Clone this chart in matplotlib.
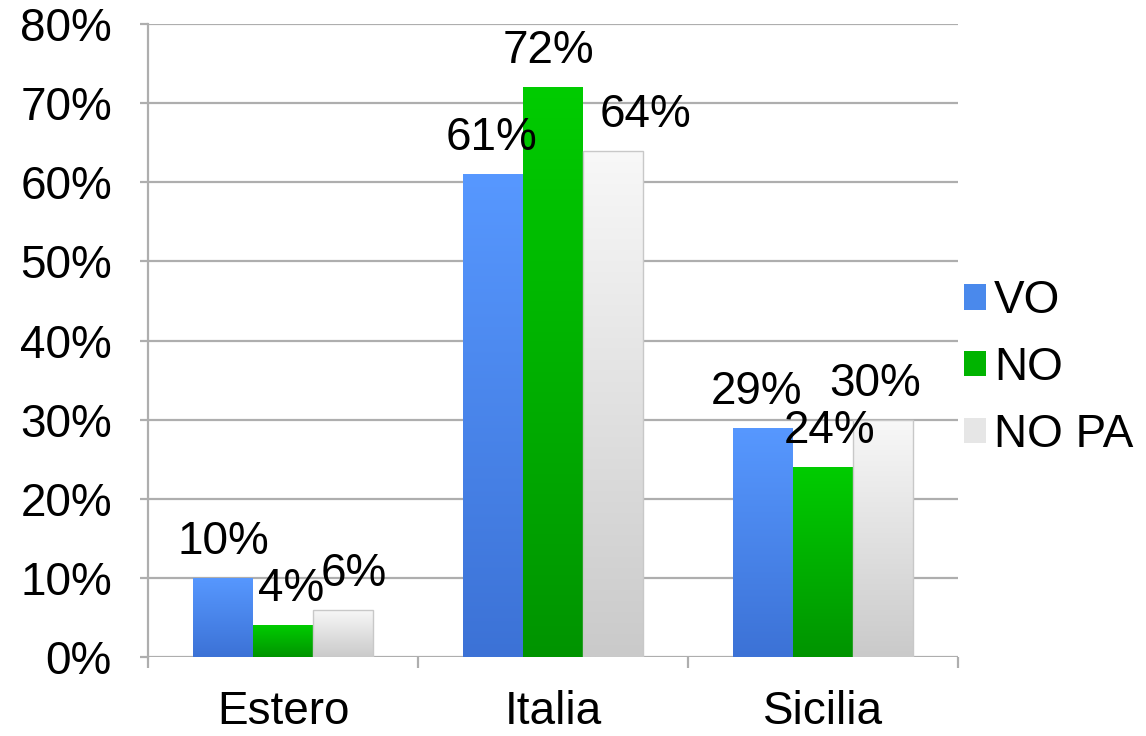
import numpy as np
import matplotlib
matplotlib.use("Agg")
import matplotlib.pyplot as plt
from matplotlib.colors import LinearSegmentedColormap
from matplotlib.patches import Patch
from matplotlib.ticker import FuncFormatter, FixedLocator

# data (percent)
categories = ["Estero", "Italia", "Sicilia"]
series_names = ["VO", "NO", "NO PA"]
vo = [10, 61, 29]
no = [4, 72, 24]
no_pa = [6, 64, 30]

# gradient colours (top, bottom) and legend colour for each series
grad_colors = [("#5798ff", "#3c72d6"), ("#00cc00", "#009400"), ("#f8f8f8", "#cacaca")]
legend_colors = ["#4a89ec", "#00b400", "#e6e6e6"]
edge_colors = ["none", "none", "#c8c8c8"]
# label nudges in pixels, per category / series (the original's labels are shuffled around)
label_dx = [[0, 8, 11], [-2, -5, 33], [-7, 7, -8]]

plt.rcParams["font.family"] = ["Liberation Sans", "DejaVu Sans"]
FS = 33
grid_col = "#aeaeae"

fig = plt.figure(figsize=(11.46, 7.36), dpi=100)
ax = fig.add_axes([148 / 1146, 1 - 657 / 736, 810 / 1146, 633 / 736])

x = np.arange(len(categories))
width = 0.222
px2pt = 72 / 100

for i, (name, vals) in enumerate(zip(series_names, [vo, no, no_pa])):
    bars = ax.bar(x + (i - 1) * width, vals, width, color="none",
                  edgecolor=edge_colors[i], linewidth=1, zorder=3)
    cmap = LinearSegmentedColormap.from_list(name, [grad_colors[i][1], grad_colors[i][0]])
    for j, b in enumerate(bars):
        x0, w, h = b.get_x(), b.get_width(), b.get_height()
        im = ax.imshow(np.linspace(0, 1, 256).reshape(-1, 1), cmap=cmap, origin="lower",
                       extent=[x0, x0 + w, 0, h], aspect="auto", zorder=2)
        im.set_clip_path(b)
        ax.annotate(f"{vals[j]}%", (x0 + w / 2, h), xytext=(label_dx[j][i] * px2pt, 24 * px2pt),
                    textcoords="offset points", ha="center", va="baseline",
                    fontsize=FS, zorder=5)

ax.set_xlim(-0.5, len(categories) - 0.5)
ax.set_ylim(0, 80)
ax.set_yticks(np.arange(0, 81, 10))
ax.yaxis.set_major_formatter(FuncFormatter(lambda v, pos: f"{int(v)}%"))
ax.yaxis.grid(True, color=grid_col, linewidth=1.6)
ax.set_axisbelow(True)

ax.set_xticks(x)
ax.set_xticklabels(categories)
ax.xaxis.set_minor_locator(FixedLocator(np.arange(-0.5, len(categories), 1.0)))
ax.tick_params(axis="x", which="major", length=0, pad=24, labelsize=FS)
ax.tick_params(axis="x", which="minor", length=8, width=1.6, color=grid_col)
ax.tick_params(axis="y", length=6, width=1.6, color=grid_col, pad=20, labelsize=FS)

for s in ["top", "right", "bottom"]:
    ax.spines[s].set_visible(False)
ax.spines["left"].set_color(grid_col)
ax.spines["left"].set_linewidth(1.6)

handles = [Patch(facecolor=c, edgecolor="none") for c in legend_colors]
fig.legend(handles, series_names, loc="center left", bbox_to_anchor=(964 / 1146, 1 - 368 / 736),
           frameon=False, fontsize=FS, handlelength=0.48, handleheight=0.48,
           handletextpad=0.18, labelspacing=0.5, borderpad=0, borderaxespad=0)

fig.savefig("out.png", dpi=100)
